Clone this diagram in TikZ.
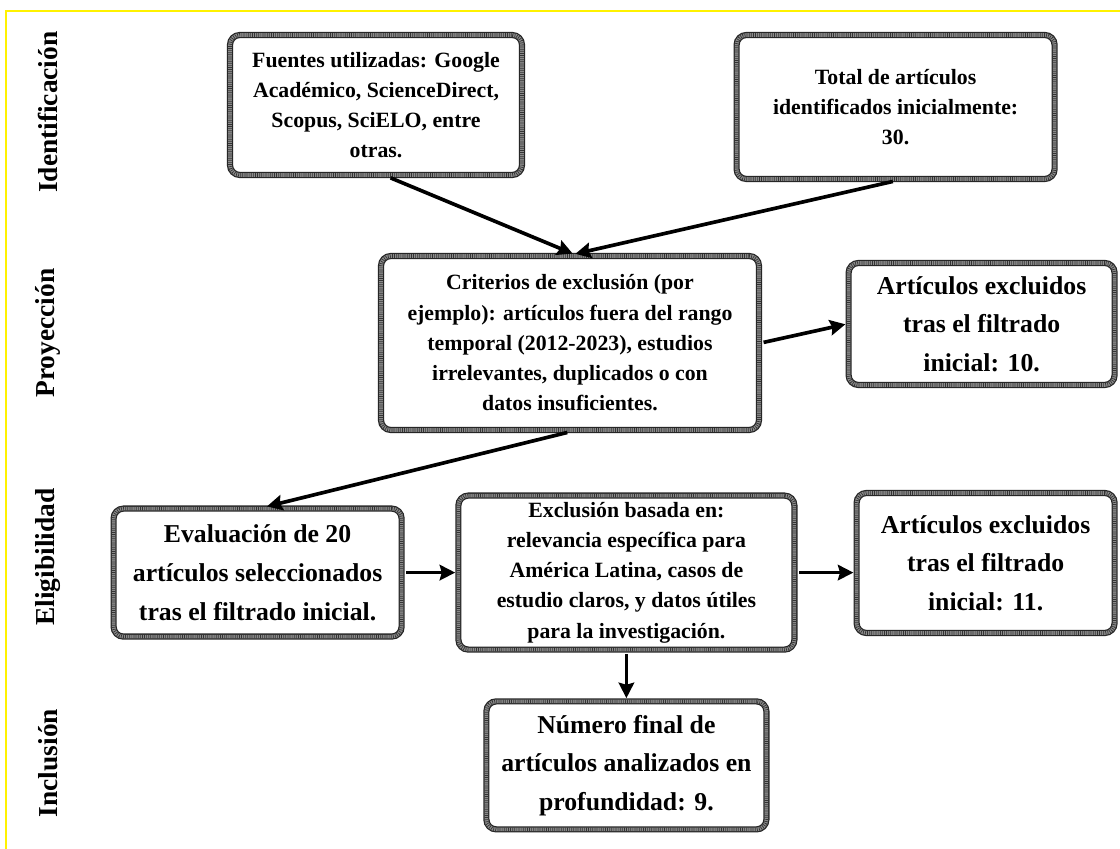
\documentclass[tikz,border=0pt]{standalone}
\usepackage{fontspec}
\setmainfont{Liberation Serif}
\usetikzlibrary{arrows.meta}

\begin{document}
\begin{tikzpicture}[
  >={Stealth[length=11pt,width=11pt,inset=1.5pt]},
  rope/.style={rounded corners=7pt, inner sep=0pt, align=center,
    preaction={fill=white},
    preaction={draw=black!85, line width=4.4pt},
    draw=black!45, line width=2.6pt,
    postaction={draw=black!80, line width=2.6pt, dash pattern=on 0.5pt off 1pt}},
  small/.style={font=\fontsize{15.5}{21.5}\selectfont\bfseries},
  large/.style={font=\fontsize{18.3}{27.5}\selectfont\bfseries},
  phase/.style={rotate=90, font=\fontsize{19.5}{21}\selectfont\bfseries},
  flow/.style={->, line width=2.6pt, shorten <=2pt, shorten >=1pt},
]
  \useasboundingbox (0,0) rectangle (28,21.225);

  % Yellow frame (top and left)
  \draw[yellow, line width=1.4pt] (28,20.95) -- (0.15,20.95) -- (0.15,0);

  % Phase labels
  \node[phase] (identificacion) at (1.2,18.42) {Identificación};
  \node[phase] (proyeccion) at (1.2,12.9) {Proyección};
  \node[phase] (eligibilidad) at (1.2,7.3) {Eligibilidad};
  \node[phase] (inclusion) at (1.2,2.15) {Inclusión};

  % Identification
  \node[rope, small, minimum width=7.3cm, minimum height=3.5cm] (fuentes) at (9.4,18.6) {
    Fuentes utilizadas: Google\\
    Académico, ScienceDirect,\\
    Scopus, SciELO, entre\\
    otras.
  };
  \node[rope, small, minimum width=7.95cm, minimum height=3.6cm] (total) at (22.39,18.55) {
    Total de artículos\\
    identificados inicialmente:\\
    30.
  };

  % Screening
  \node[rope, small, minimum width=9.45cm, minimum height=4.35cm] (criterios) at (14.25,12.65) {
    Criterios de exclusión (por\\
    ejemplo): artículos fuera del rango\\
    temporal (2012-2023), estudios\\
    irrelevantes, duplicados o con\\
    datos insuficientes.
  };
  \node[rope, large, minimum width=6.65cm, minimum height=3.05cm] (excluidos1) at (24.54,13.125) {
    Artículos excluidos\\
    tras el filtrado\\
    inicial: 10.
  };

  % Eligibility
  \node[rope, large, minimum width=7.2cm, minimum height=3.2cm] (evaluacion) at (6.44,6.91) {
    Evaluación de 20\\
    artículos seleccionados\\
    tras el filtrado inicial.
  };
  \node[rope, small, minimum width=8.4cm, minimum height=3.85cm] (exclusion) at (15.66,6.91) {
    Exclusión basada en:\\
    relevancia específica para\\
    América Latina, casos de\\
    estudio claros, y datos útiles\\
    para la investigación.
  };
  \node[rope, large, minimum width=6.45cm, minimum height=3.5cm] (excluidos2) at (24.64,7.15) {
    Artículos excluidos\\
    tras el filtrado\\
    inicial: 11.
  };

  % Inclusion
  \node[rope, large, minimum width=7.0cm, minimum height=3.2cm] (final) at (15.66,2.09) {
    Número final de\\
    artículos analizados en\\
    profundidad: 9.
  };

  % Connectors
  \draw[flow] ([xshift=0.3cm]fuentes.south) -- ([xshift=0.1cm]criterios.north);
  \draw[flow] (total.south) -- ([xshift=0.1cm]criterios.north);
  \draw[flow] (criterios.east) -- (excluidos1.west);
  \draw[flow] (criterios.south) -- ([xshift=0.2cm]evaluacion.north);
  \draw[flow] (evaluacion.east) -- (exclusion.west);
  \draw[flow] (exclusion.east) -- (exclusion.east -| excluidos2.west);
  \draw[flow] (exclusion.south) -- (final.north);

\end{tikzpicture}
\end{document}
